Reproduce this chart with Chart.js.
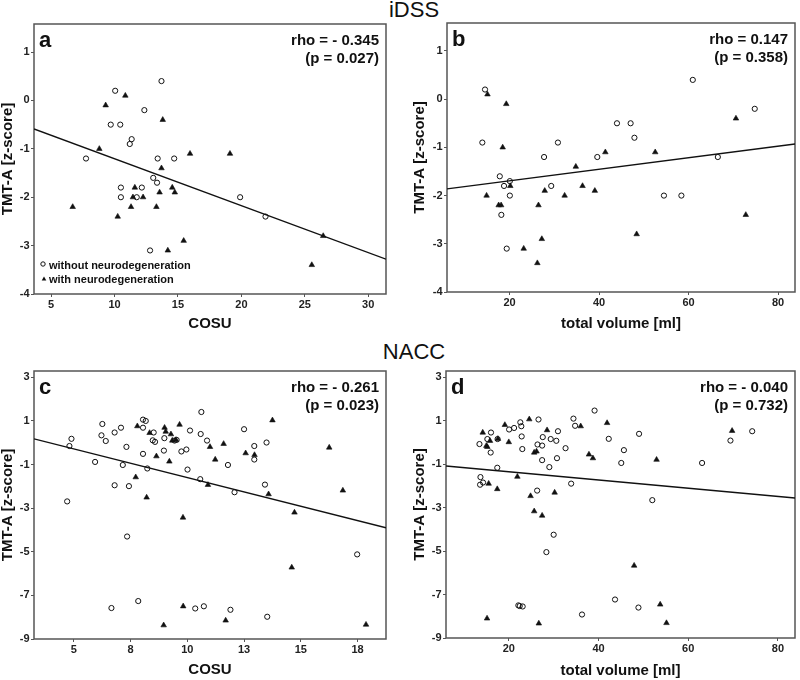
<!DOCTYPE html>
<html>
<head>
<meta charset="utf-8">
<script src="https://cdn.jsdelivr.net/npm/chart.js@4.4.1/dist/chart.umd.min.js"></script>
<style>
  body { margin: 0; background: #fff; }
  #wrap { position: relative; width: 800px; height: 680px; overflow: hidden; font-family: "Liberation Sans", Arial, sans-serif; }
  #wrap canvas { position: absolute; }
  .group { position: absolute; left: 0; width: 828px; text-align: center; font-size: 22px; line-height: 24px; color: #111; }
</style>
</head>
<body>
<div id="wrap">
  <div class="group" style="top:-2px">iDSS</div>
  <div class="group" style="top:340px">NACC</div>
  <canvas id="chartA" width="400" height="340" style="left:0;top:0"></canvas>
  <canvas id="chartB" width="400" height="340" style="left:400px;top:0"></canvas>
  <canvas id="chartC" width="400" height="340" style="left:0;top:340px"></canvas>
  <canvas id="chartD" width="400" height="340" style="left:400px;top:340px"></canvas>
</div>
<script>
// iDSS - COSU (a)
const aCircles = [[13.7,0.4],[10.05,0.2],[12.35,-0.2],[9.7,-0.5],[10.45,-0.5],[11.35,-0.8],[11.2,-0.9],[7.75,-1.2],[13.4,-1.2],[14.7,-1.2],[13.05,-1.6],[13.35,-1.7],[10.5,-1.8],[12.15,-1.8],[10.5,-2.0],[11.75,-2.0],[19.9,-2.0],[21.9,-2.4],[12.8,-3.1]];
const aTriangles = [[10.85,0.1],[9.3,-0.1],[13.8,-0.4],[8.8,-1.0],[15.95,-1.1],[19.1,-1.1],[13.7,-1.4],[11.6,-1.8],[14.55,-1.8],[14.75,-1.9],[13.55,-1.9],[11.45,-2.0],[12.25,-2.0],[6.7,-2.2],[11.3,-2.2],[13.3,-2.2],[10.25,-2.4],[15.45,-2.9],[14.2,-3.1],[26.45,-2.8],[25.55,-3.4]];
const aFitX = [3.65, 31.4];
const aFitY = [-0.59, -3.28];

// iDSS - total volume (b)
const bCircles = [[14.5,0.2],[13.9,-0.9],[17.8,-1.6],[18.75,-1.8],[20.05,-1.7],[20.05,-2.0],[18.15,-2.4],[19.35,-3.1],[27.7,-1.2],[30.8,-0.9],[29.3,-1.8],[39.6,-1.2],[44.0,-0.5],[47.05,-0.5],[47.9,-0.8],[54.5,-2.0],[58.4,-2.0],[60.95,0.4],[66.55,-1.2],[74.8,-0.2]];
const bTriangles = [[15.05,0.1],[19.25,-0.1],[18.45,-1.0],[14.85,-2.0],[17.55,-2.2],[18.1,-2.2],[20.15,-1.8],[26.45,-2.2],[27.85,-1.9],[32.3,-2.0],[34.8,-1.4],[36.3,-1.8],[39.05,-1.9],[41.4,-1.1],[52.55,-1.1],[48.4,-2.8],[27.2,-2.9],[23.15,-3.1],[26.2,-3.4],[70.6,-0.4],[72.8,-2.4]];
const bFitX = [6.0, 83.8];
const bFitY = [-1.86, -0.93];

// NACC - COSU (c)
const cCircles = [[4.71,-2.69],[4.81,-0.15],[4.9,0.18],[5.94,-0.88],[6.22,0.34],[6.26,0.86],[6.41,0.08],[6.8,0.47],[7.08,0.69],[7.16,-1.02],[6.8,-1.95],[7.32,-0.19],[7.43,-1.99],[7.35,-4.3],[6.66,-7.58],[7.84,-7.26],[8.05,1.06],[8.17,1.0],[8.05,0.69],[8.05,-0.51],[8.24,-1.18],[8.52,0.47],[8.48,0.11],[8.58,0.04],[8.99,0.21],[8.97,-0.36],[9.44,0.1],[9.53,0.13],[9.74,-0.4],[9.96,-0.31],[10.01,-1.23],[10.12,0.56],[10.59,0.4],[10.62,1.41],[10.57,-1.67],[10.87,0.1],[10.35,-7.6],[10.73,-7.5],[11.79,-1.02],[12.08,-2.27],[11.9,-7.66],[12.5,0.62],[12.95,-0.15],[12.95,-0.77],[13.42,-1.92],[13.49,0.01],[13.52,-7.98],[17.48,-5.12]];
const cTriangles = [[7.8,0.76],[8.34,0.45],[9.0,0.69],[9.05,0.51],[9.28,0.39],[9.66,0.83],[9.34,0.1],[9.5,0.13],[8.64,-0.62],[9.21,-0.86],[7.73,-1.58],[8.21,-2.51],[9.81,-3.43],[9.82,-7.5],[8.96,-8.37],[11.0,-0.19],[10.91,-1.93],[11.23,-0.77],[11.6,-0.05],[12.57,-0.48],[12.96,-0.56],[11.69,-8.15],[13.58,-2.36],[13.75,1.03],[14.72,-3.2],[14.6,-5.72],[16.25,-0.22],[16.85,-2.19],[17.87,-8.34]];
const cFitX = [3.25, 18.75];
const cFitY = [0.18, -3.9];

// NACC - total volume (d)
const dCircles = [[13.46,-0.08],[13.68,-1.6],[13.6,-1.95],[14.26,-1.85],[15.22,0.15],[16.03,0.45],[15.96,-0.47],[17.5,0.15],[17.43,-1.17],[20.07,0.59],[21.18,0.66],[22.57,0.92],[22.79,0.74],[22.87,0.27],[23.01,-0.31],[22.13,-7.5],[22.43,-7.53],[23.09,-7.55],[26.62,1.05],[26.4,-0.1],[26.32,-2.22],[27.43,-0.15],[27.57,0.24],[27.43,-0.82],[29.04,-1.14],[29.34,0.15],[30.59,0.07],[30.74,-0.73],[30.96,0.51],[30.0,-4.25],[28.38,-5.05],[32.65,-0.27],[33.9,-1.9],[34.41,1.09],[34.78,0.76],[36.32,-7.92],[39.12,1.46],[42.28,0.16],[43.68,-7.23],[45.07,-0.95],[45.66,-0.36],[48.9,-7.6],[49.04,0.39],[51.99,-2.66],[63.09,-0.95],[69.41,0.08],[74.26,0.51]];
const dTriangles = [[14.19,0.45],[15.0,-0.16],[15.22,-0.21],[15.81,0.07],[17.57,0.16],[19.12,0.8],[20.0,0.01],[15.51,-1.9],[17.43,-2.15],[15.15,-8.1],[21.91,-1.58],[24.56,1.06],[24.85,-2.47],[25.66,-0.47],[26.18,-0.42],[25.66,-3.17],[27.43,-3.37],[26.69,-8.33],[28.53,0.56],[30.22,-2.31],[36.03,0.74],[37.87,-0.56],[38.75,-0.73],[41.91,0.89],[47.94,-5.67],[52.94,-0.8],[53.75,-7.46],[55.15,-8.31],[69.78,0.53]];
const dFitX = [6.0, 83.8];
const dFitY = [-1.09, -2.56];

// axis ticks (cosu in NACC uses 2.5 steps, SPSS rounds the labels)
const cosuTicksA = [5, 10, 15, 20, 25, 30];
const cosuTicksC = [5, 7.5, 10, 12.5, 15, 17.5];
const volumeTicks = [20, 40, 60, 80];
const tmtTicksIdss = [-4, -3, -2, -1, 0, 1];
const tmtTicksNacc = [-9, -7, -5, -3, -1, 1, 3];

const FONT = '"Liberation Sans", Arial, sans-serif';
const INK = '#111';

const toPoints = arr => arr.map(p => ({ x: p[0], y: p[1] }));

const panelDecor = {
    id: 'panelDecor',
    beforeDatasetsDraw(chart) {
        const { ctx, chartArea: a } = chart;
        ctx.save();
        ctx.strokeStyle = '#555';
        ctx.lineWidth = 1.5;
        ctx.strokeRect(a.left, a.top, a.right - a.left, a.bottom - a.top);
        ctx.restore();
    },
    afterDatasetsDraw(chart, args, opts) {
        const { ctx, chartArea: a } = chart;
        ctx.save();
        ctx.fillStyle = INK;
        ctx.textBaseline = 'alphabetic';
        ctx.textAlign = 'left';
        ctx.font = 'bold 22px ' + FONT;
        ctx.fillText(opts.letter, a.left + 5, a.top + 23);
        ctx.font = 'bold 15px ' + FONT;
        ctx.textAlign = 'right';
        ctx.fillText(opts.rho, a.right - 7, a.top + 21);
        ctx.fillText(opts.p, a.right - 7, a.top + 39);
        if (opts.legend) {
            // legend box, bottom left of panel a
            ctx.strokeStyle = INK;
            ctx.lineWidth = 1;
            ctx.beginPath();
            ctx.arc(a.left + 9, a.bottom - 30, 2.2, 0, Math.PI * 2);
            ctx.stroke();
            ctx.beginPath();
            ctx.moveTo(a.left + 10, a.bottom - 17.5);
            ctx.lineTo(a.left + 12.3, a.bottom - 13.5);
            ctx.lineTo(a.left + 7.7, a.bottom - 13.5);
            ctx.closePath();
            ctx.fill();
            ctx.font = 'bold 11px ' + FONT;
            ctx.textAlign = 'left';
            ctx.fillText('without neurodegeneration', a.left + 15, a.bottom - 25.5);
            ctx.fillText('with neurodegeneration', a.left + 15, a.bottom - 11.5);
        }
        ctx.restore();
    }
};

function buildPanel(id, p) {
    const ctx = document.getElementById(id).getContext('2d');
    const tickFont = { family: FONT, size: 11, weight: 'bold' };
    const titleFont = { family: FONT, size: 15, weight: 'bold', lineHeight: 1 };
    const grid = { display: true, drawOnChartArea: false, drawTicks: true, tickLength: 3, color: '#555', lineWidth: 1 };

    return new Chart(ctx, {
        type: 'scatter',
        data: {
            datasets: [{
                label: 'without neurodegeneration',
                data: toPoints(p.circles),
                pointStyle: 'circle',
                pointRadius: 2.6,
                borderWidth: 1,
                borderColor: INK,
                backgroundColor: 'rgba(255,255,255,0)'
            }, {
                label: 'with neurodegeneration',
                data: toPoints(p.triangles),
                pointStyle: 'triangle',
                pointRadius: 3.2,
                borderWidth: 0.6,
                borderColor: INK,
                backgroundColor: INK
            }, {
                type: 'line',
                label: 'fit',
                data: p.fitX.map((x, i) => ({ x: x, y: p.fitY[i] })),
                showLine: true,
                borderColor: INK,
                borderWidth: 1.4,
                pointRadius: 0,
                fill: false
            }]
        },
        options: {
            responsive: false,
            animation: false,
            devicePixelRatio: 1,
            layout: { padding: { left: 0, top: p.area.top, right: 400 - p.area.right, bottom: 0 } },
            plugins: {
                legend: { display: false },
                tooltip: { enabled: false },
                panelDecor: { letter: p.letter, rho: p.rho, p: p.pText, legend: p.legend }
            },
            scales: {
                x: {
                    type: 'linear',
                    min: p.xMin,
                    max: p.xMax,
                    afterBuildTicks: s => { s.ticks = p.xTicks.map(v => ({ value: v })); },
                    afterFit: s => { s.height = 340 - p.area.bottom; },
                    ticks: { font: tickFont, color: '#222', padding: 1, maxRotation: 0, callback: v => Math.round(v) },
                    grid: grid,
                    border: { display: false },
                    title: { display: true, text: p.xTitle, font: titleFont, color: INK, padding: { top: 0, bottom: p.xTitlePad } }
                },
                y: {
                    type: 'linear',
                    min: p.yMin,
                    max: p.yMax,
                    afterBuildTicks: s => { s.ticks = p.yTicks.map(v => ({ value: v })); },
                    afterFit: s => { s.width = p.area.left; },
                    ticks: { font: tickFont, color: '#222', padding: 1.5, callback: v => Math.round(v) },
                    grid: grid,
                    border: { display: false },
                    title: { display: true, text: 'TMT-A [z-score]', font: titleFont, color: INK, padding: { top: p.yTitlePad, bottom: 0 } }
                }
            }
        },
        plugins: [panelDecor]
    });
}

buildPanel('chartA', {
    circles: aCircles, triangles: aTriangles, fitX: aFitX, fitY: aFitY,
    xMin: 3.65, xMax: 31.4, yMin: -4, yMax: 1.58, xTicks: cosuTicksA, yTicks: tmtTicksIdss,
    area: { left: 34, top: 24, right: 386, bottom: 294 },
    xTitle: 'COSU', xTitlePad: 8.5, yTitlePad: 0,
    letter: 'a', rho: 'rho = - 0.345', pText: '(p = 0.027)', legend: true
});

buildPanel('chartB', {
    circles: bCircles, triangles: bTriangles, fitX: bFitX, fitY: bFitY,
    xMin: 6.0, xMax: 83.8, yMin: -4, yMax: 1.58, xTicks: volumeTicks, yTicks: tmtTicksIdss,
    area: { left: 47, top: 23, right: 399, bottom: 292 },
    xTitle: 'total volume [ml]', xTitlePad: 8.5, yTitlePad: 12.5,
    letter: 'b', rho: 'rho = 0.147', pText: '(p = 0.358)', legend: false
});

buildPanel('chartC', {
    circles: cCircles, triangles: cTriangles, fitX: cFitX, fitY: cFitY,
    xMin: 3.25, xMax: 18.75, yMin: -9, yMax: 3.29, xTicks: cosuTicksC, yTicks: tmtTicksNacc,
    area: { left: 34, top: 31, right: 386, bottom: 299 },
    xTitle: 'COSU', xTitlePad: 2.5, yTitlePad: 0,
    letter: 'c', rho: 'rho = - 0.261', pText: '(p = 0.023)', legend: false
});

buildPanel('chartD', {
    circles: dCircles, triangles: dTriangles, fitX: dFitX, fitY: dFitY,
    xMin: 6.0, xMax: 83.8, yMin: -9, yMax: 3.28, xTicks: volumeTicks, yTicks: tmtTicksNacc,
    area: { left: 46, top: 31, right: 399, bottom: 298 },
    xTitle: 'total volume [ml]', xTitlePad: 1.5, yTitlePad: 12.5,
    letter: 'd', rho: 'rho = - 0.040', pText: '(p = 0.732)', legend: false
});
</script>
</body>
</html>
